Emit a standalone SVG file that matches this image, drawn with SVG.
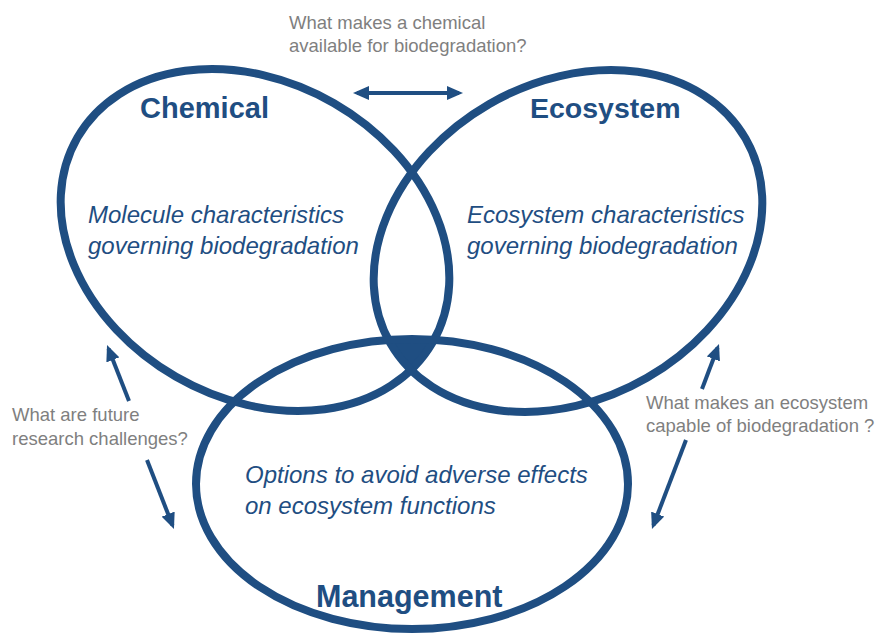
<svg xmlns="http://www.w3.org/2000/svg" width="877" height="636" viewBox="0 0 877 636">
  <style>
    .ring { fill: none; stroke: #1F4E82; stroke-width: 8; }
    .title { font-family: "Liberation Sans", Arial, sans-serif; font-weight: bold; fill: #1F4E82; }
    .desc { font-family: "Liberation Sans", Arial, sans-serif; font-style: italic; font-size: 24px; fill: #1F4E82; }
    .q { font-family: "Liberation Sans", Arial, sans-serif; font-size: 18.5px; fill: #7F7F7F; }
    .conn { fill: none; stroke: #1F4E82; stroke-width: 4; }
  </style>
  <defs>
    <marker id="ah" markerUnits="userSpaceOnUse" markerWidth="16" markerHeight="14" refX="12" refY="7" orient="auto-start-reverse">
      <path d="M0,0 L16,7 L0,14 z" fill="#1F4E82"/>
    </marker>
    <clipPath id="clipEco">
      <ellipse cx="568" cy="241" rx="205" ry="158" transform="rotate(-30 568 241)"/>
    </clipPath>
    <clipPath id="clipMgmt">
      <ellipse cx="412" cy="484" rx="216" ry="145"/>
    </clipPath>
  </defs>
  <rect width="877" height="636" fill="#FFFFFF"/>

  <g id="intersection" clip-path="url(#clipEco)">
    <g clip-path="url(#clipMgmt)">
      <ellipse cx="255" cy="240" rx="205" ry="158" transform="rotate(30 255 240)" fill="#1F4E82"/>
    </g>
  </g>

  <g id="node-chemical">
    <ellipse class="ring" cx="255" cy="240" rx="205" ry="158" transform="rotate(30 255 240)"/>
    <text class="title" x="140" y="118" font-size="29">Chemical</text>
    <text class="desc" x="88" y="223">Molecule characteristics</text>
    <text class="desc" x="88" y="254">governing biodegradation</text>
  </g>

  <g id="node-ecosystem">
    <ellipse class="ring" cx="568" cy="241" rx="205" ry="158" transform="rotate(-30 568 241)"/>
    <text class="title" x="530" y="118" font-size="28.5">Ecosystem</text>
    <text class="desc" x="467" y="223">Ecosystem characteristics</text>
    <text class="desc" x="467" y="254">governing biodegradation</text>
  </g>

  <g id="node-management">
    <ellipse class="ring" cx="412" cy="484" rx="216" ry="145"/>
    <text class="title" x="316" y="607" font-size="30.5">Management</text>
    <text class="desc" x="245" y="483">Options to avoid adverse effects</text>
    <text class="desc" x="245" y="514">on ecosystem functions</text>
  </g>

  <g id="connectors">
    <line class="conn" x1="357" y1="93" x2="459" y2="93" marker-start="url(#ah)" marker-end="url(#ah)"/>
    <line class="conn" x1="129" y1="401" x2="108.5" y2="348.7" marker-end="url(#ah)"/>
    <line class="conn" x1="147" y1="460" x2="172.5" y2="525.3" marker-end="url(#ah)"/>
    <line class="conn" x1="702" y1="389" x2="717.6" y2="347.7" marker-end="url(#ah)"/>
    <line class="conn" x1="686" y1="440" x2="653.4" y2="525.3" marker-end="url(#ah)"/>
  </g>

  <g id="labels">
    <text class="q" x="289" y="29">What makes a chemical</text>
    <text class="q" x="289" y="52">available for biodegradation?</text>
    <text class="q" x="12" y="421">What are future</text>
    <text class="q" x="12" y="445">research challenges?</text>
    <text class="q" x="646" y="409">What makes an ecosystem</text>
    <text class="q" x="646" y="432">capable of biodegradation ?</text>
  </g>
</svg>
